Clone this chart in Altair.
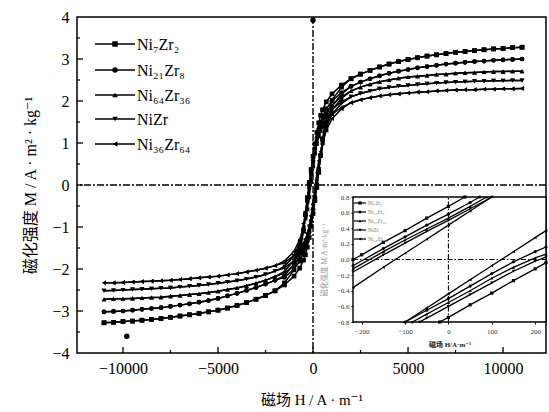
import altair as alt
import pandas as pd

SERIF = "Liberation Serif, DejaVu Serif, Noto Sans CJK SC"

SERIES = ["Ni₇Zr₂", "Ni₂₁Zr₈", "Ni₆₄Zr₃₆", "NiZr", "Ni₃₆Zr₆₄"]
SHAPES = ["square", "circle", "triangle-up", "triangle-down", "triangle-left"]

# ---- main loop, field H (A/m), magnetisation M (A·m²/kg)
# far field (both branches coincide)
H_FAR_NEG = [-11000, -10500, -10000, -9500, -9000, -8500, -8000, -7500, -7000, -6500,
             -6000, -5500, -5000, -4500, -4000, -3500, -3000, -2500, -2000]
H_FAR_POS = [2000, 2500, 3000, 3500, 4000, 4500, 5000, 5500, 6000, 6500,
             7000, 7500, 8000, 8500, 9000, 9500, 10000, 10500, 11000]
M_FAR_NEG = [
    [-3.28, -3.27, -3.25, -3.24, -3.22, -3.2, -3.18, -3.15, -3.12, -3.09,
     -3.06, -3.02, -2.98, -2.93, -2.87, -2.8, -2.72, -2.63, -2.52],
    [-3.02, -3.01, -3.0, -2.98, -2.96, -2.94, -2.92, -2.89, -2.86, -2.83,
     -2.79, -2.75, -2.7, -2.64, -2.58, -2.51, -2.44, -2.36, -2.27],
    [-2.72, -2.71, -2.71, -2.7, -2.69, -2.68, -2.67, -2.65, -2.63, -2.61,
     -2.59, -2.56, -2.53, -2.49, -2.45, -2.4, -2.34, -2.27, -2.18],
    [-2.52, -2.51, -2.5, -2.49, -2.48, -2.47, -2.46, -2.45, -2.43, -2.41,
     -2.39, -2.37, -2.34, -2.31, -2.28, -2.24, -2.19, -2.13, -2.05],
    [-2.33, -2.33, -2.32, -2.31, -2.3, -2.29, -2.28, -2.27, -2.25, -2.23,
     -2.21, -2.19, -2.17, -2.14, -2.11, -2.07, -2.03, -1.98, -1.92],
]
M_FAR_POS = [
    [2.53, 2.64, 2.73, 2.81, 2.88, 2.94, 2.99, 3.03, 3.07, 3.1,
     3.13, 3.16, 3.18, 3.2, 3.22, 3.24, 3.25, 3.27, 3.28],
    [2.35, 2.45, 2.53, 2.6, 2.66, 2.71, 2.75, 2.79, 2.82, 2.85,
     2.88, 2.9, 2.92, 2.94, 2.95, 2.97, 2.98, 2.99, 3.0],
    [2.24, 2.33, 2.4, 2.46, 2.5, 2.54, 2.57, 2.59, 2.61, 2.63,
     2.64, 2.66, 2.67, 2.68, 2.69, 2.7, 2.7, 2.71, 2.71],
    [2.1, 2.18, 2.24, 2.29, 2.32, 2.35, 2.37, 2.39, 2.41, 2.43,
     2.44, 2.45, 2.46, 2.47, 2.47, 2.48, 2.48, 2.49, 2.49],
    [1.96, 2.03, 2.08, 2.12, 2.15, 2.17, 2.19, 2.21, 2.22, 2.24,
     2.25, 2.26, 2.27, 2.27, 2.28, 2.28, 2.29, 2.29, 2.3],
]
# low field: descending (upper) and ascending (lower) branches
H_NEAR = [-1500, -1000, -700, -500, -400, -300, -200, -100, 0,
          100, 200, 300, 400, 500, 700, 1000, 1500]
M_NEAR_UP = [
    [-2.33, -2.02, -1.62, -1.1, -0.7, -0.3, 0.06, 0.37, 0.68,
     0.98, 1.25, 1.48, 1.66, 1.79, 1.98, 2.17, 2.38],
    [-2.16, -1.88, -1.52, -1.05, -0.72, -0.38, -0.02, 0.29, 0.58,
     0.86, 1.12, 1.34, 1.5, 1.63, 1.82, 2.0, 2.2],
    [-2.06, -1.79, -1.44, -1.0, -0.7, -0.38, -0.05, 0.25, 0.53,
     0.8, 1.05, 1.25, 1.41, 1.53, 1.72, 1.9, 2.1],
    [-1.94, -1.69, -1.36, -0.95, -0.66, -0.38, -0.08, 0.21, 0.5,
     0.76, 0.99, 1.18, 1.33, 1.45, 1.62, 1.8, 1.98],
    [-1.81, -1.58, -1.3, -1.0, -0.8, -0.58, -0.29, 0.08, 0.44,
     0.75, 0.98, 1.15, 1.28, 1.38, 1.53, 1.68, 1.85],
]
M_NEAR_LO = [
    [-2.38, -2.17, -1.98, -1.79, -1.66, -1.48, -1.25, -0.98, -0.68,
     -0.37, -0.06, 0.3, 0.7, 1.1, 1.62, 2.02, 2.33],
    [-2.2, -2.0, -1.82, -1.63, -1.5, -1.34, -1.12, -0.86, -0.58,
     -0.29, 0.02, 0.38, 0.72, 1.05, 1.52, 1.88, 2.16],
    [-2.1, -1.9, -1.72, -1.53, -1.41, -1.25, -1.05, -0.8, -0.53,
     -0.25, 0.05, 0.38, 0.7, 1.0, 1.44, 1.79, 2.06],
    [-1.98, -1.8, -1.62, -1.45, -1.33, -1.18, -0.99, -0.76, -0.5,
     -0.21, 0.08, 0.38, 0.66, 0.95, 1.36, 1.69, 1.94],
    [-1.85, -1.68, -1.53, -1.38, -1.28, -1.15, -0.98, -0.75, -0.44,
     -0.08, 0.29, 0.58, 0.8, 1.0, 1.3, 1.58, 1.81],
]

# isolated marks in the frame
STRAY_H = [0, -9800]
STRAY_M = [3.92, -3.6]

# ---- inset: branches near the origin
INSET_UP_H = [[-220, -200, -150, -100, -50, 0, 38],
              [-220, -150, -100, -50, 0, 50, 72],
              [-220, -150, -100, -50, 0, 50, 88],
              [-220, -150, -100, -50, 0, 50, 100],
              [-220, -150, -100, -50, 0, 50, 100]]
INSET_UP_M = [[0.0, 0.06, 0.22, 0.37, 0.53, 0.68, 0.8],
              [-0.08, 0.14, 0.29, 0.44, 0.58, 0.73, 0.8],
              [-0.12, 0.1, 0.25, 0.39, 0.53, 0.68, 0.8],
              [-0.16, 0.06, 0.21, 0.36, 0.5, 0.65, 0.8],
              [-0.36, -0.1, 0.08, 0.26, 0.44, 0.62, 0.8]]
INSET_LO_H = [[-20, 0, 50, 100, 150, 200, 225],
              [-100, -50, 0, 50, 100, 150, 200, 225],
              [-83, -50, 0, 50, 100, 150, 200, 225],
              [-67, -50, 0, 50, 100, 150, 200, 225],
              [-100, -50, 0, 50, 100, 150, 200, 225]]
INSET_LO_M = [[-0.8, -0.74, -0.58, -0.43, -0.27, -0.12, -0.04],
              [-0.8, -0.65, -0.5, -0.34, -0.18, -0.03, 0.1, 0.16],
              [-0.8, -0.7, -0.55, -0.4, -0.24, -0.1, 0.02, 0.07],
              [-0.8, -0.75, -0.6, -0.45, -0.3, -0.15, -0.02, 0.03],
              [-0.8, -0.62, -0.44, -0.26, -0.08, 0.1, 0.28, 0.37]]

X_TICKS_MAJOR = [-10000, -5000, 0, 5000, 10000]
X_TICKS_MINOR = [-7500, -2500, 2500, 7500]
Y_TICKS_MAJOR = [-3, -2, -1, 0, 1, 2, 3]
Y_TICKS_MINOR = [-3.5, -2.5, -1.5, -0.5, 0.5, 1.5, 2.5, 3.5]
Y_LABELS = [-4, -3, -2, -1, 0, 1, 2, 3, 4]
INSET_X_TICKS = [-200, -100, 0, 100, 200]
INSET_Y_TICKS = [-0.8, -0.6, -0.4, -0.2, 0.0, 0.2, 0.4, 0.6, 0.8]

# ---------------------------------------------------------------- tables
rows = []
for i, name in enumerate(SERIES):
    for branch, near in (("up", M_NEAR_UP[i]), ("lo", M_NEAR_LO[i])):
        hs = H_FAR_NEG + H_NEAR + H_FAR_POS
        ms = M_FAR_NEG[i] + near + M_FAR_POS[i]
        for h, m in zip(hs, ms):
            rows.append({"H": h, "M": m, "series": name, "curve": name + branch})
main_df = pd.DataFrame(rows)

irows = []
for i, name in enumerate(SERIES):
    for h, m in zip(INSET_UP_H[i], INSET_UP_M[i]):
        irows.append({"H": h, "M": m, "series": name, "curve": name + "_up"})
    for h, m in zip(INSET_LO_H[i], INSET_LO_M[i]):
        irows.append({"H": h, "M": m, "series": name, "curve": name + "_lo"})
inset_df = pd.DataFrame(irows)

W, HGT = 469, 336

shape_scale = alt.Scale(domain=SERIES, range=SHAPES)

x_main = alt.X("H:Q", scale=alt.Scale(domain=[-12420, 12260], nice=False, zero=False),
               axis=alt.Axis(values=X_TICKS_MAJOR, format="d", ticks=False, domain=False,
                             grid=False, labelFont=SERIF, labelFontSize=16,
                             labelColor="black", labelPadding=7,
                             title="磁场 H / A · m⁻¹", titleFont=SERIF, titleFontSize=15,
                             titleFontWeight="normal", titleColor="black", titlePadding=16))
y_main = alt.Y("M:Q", scale=alt.Scale(domain=[-4, 4], nice=False, zero=False),
               axis=alt.Axis(values=Y_LABELS, format="d", ticks=False, domain=False,
                             grid=False, labelFont=SERIF, labelFontSize=16,
                             labelColor="black", labelPadding=8,
                             title="磁化强度 M / A · m² · kg⁻¹", titleFont=SERIF,
                             titleFontSize=16, titleFontWeight="normal",
                             titleColor="black", titlePadding=13))

DASH = [7, 2, 2, 2]

lines = alt.Chart(main_df).mark_line(color="black", strokeWidth=1.5).encode(
    x=x_main, y=y_main, detail="curve:N")
points = alt.Chart(main_df).mark_point(filled=True, color="black", size=22, opacity=1).encode(
    x=x_main, y=y_main, shape=alt.Shape("series:N", scale=shape_scale, legend=None))
vzero = alt.Chart(pd.DataFrame({"H": [0]})).mark_rule(
    color="black", strokeWidth=1.4, strokeDash=DASH).encode(x=x_main)
hzero = alt.Chart(pd.DataFrame({"M": [0]})).mark_rule(
    color="black", strokeWidth=1.4, strokeDash=DASH).encode(y=y_main)
xt_major = alt.Chart(pd.DataFrame({"H": X_TICKS_MAJOR})).mark_rule(
    color="black", strokeWidth=1.3).encode(x=x_main, y=alt.value(HGT), y2=alt.value(HGT - 6))
xt_minor = alt.Chart(pd.DataFrame({"H": X_TICKS_MINOR})).mark_rule(
    color="black", strokeWidth=1.2).encode(x=x_main, y=alt.value(HGT), y2=alt.value(HGT - 3))
yt_major = alt.Chart(pd.DataFrame({"M": Y_TICKS_MAJOR})).mark_rule(
    color="black", strokeWidth=1.3).encode(y=y_main, x=alt.value(0), x2=alt.value(6))
yt_minor = alt.Chart(pd.DataFrame({"M": Y_TICKS_MINOR})).mark_rule(
    color="black", strokeWidth=1.2).encode(y=y_main, x=alt.value(0), x2=alt.value(3))
stray = alt.Chart(pd.DataFrame({"H": STRAY_H, "M": STRAY_M})).mark_point(
    filled=True, color="black", size=30, shape="circle", opacity=1).encode(x=x_main, y=y_main)

one = pd.DataFrame({"k": [0]})
legend_layers = []
LEG_Y = [27, 53, 78, 102, 127]
for name, shp, yy in zip(SERIES, SHAPES, LEG_Y):
    legend_layers.append(alt.Chart(one).mark_rule(color="black", strokeWidth=1.5).encode(
        x=alt.value(18), x2=alt.value(58), y=alt.value(yy)))
    legend_layers.append(alt.Chart(one).mark_point(
        filled=True, color="black", size=30, shape=shp, opacity=1).encode(
        x=alt.value(38), y=alt.value(yy)))
    legend_layers.append(alt.Chart(one).mark_text(
        align="left", baseline="middle", font=SERIF, fontSize=16, color="black").encode(
        x=alt.value(60), y=alt.value(yy + 1), text=alt.value(name)))

main_layer = alt.layer(vzero, hzero, xt_major, xt_minor, yt_major, yt_minor,
                       lines, points, stray, *legend_layers)

# ---------------------------------------------------------------- inset
IX0, IX1 = 276, 469
IY0, IY1 = 305, 180
x_in = alt.X("H:Q", scale=alt.Scale(domain=[-220, 225], range=[IX0, IX1], nice=False, zero=False),
             axis=alt.Axis(orient="bottom", offset=-(HGT - IY0), values=INSET_X_TICKS, format="d",
                           domain=False, grid=False, tickSize=2, tickColor="black",
                           labelFont=SERIF, labelFontSize=7, labelColor="#333",
                           labelPadding=3, title="磁场 H/A·m⁻¹", titleFont=SERIF,
                           titleFontSize=7, titleFontWeight="bold", titleColor="#222",
                           titlePadding=6))
y_in = alt.Y("M:Q", scale=alt.Scale(domain=[-0.8, 0.8], range=[IY0, IY1], nice=False, zero=False),
             axis=alt.Axis(orient="left", offset=-IX0, values=INSET_Y_TICKS, format=".1f",
                           domain=False, grid=False, tickSize=2, tickColor="black",
                           labelFont=SERIF, labelFontSize=7, labelColor="#333",
                           labelPadding=2, title="磁化强度 M/A·m²·kg⁻¹", titleFont=SERIF,
                           titleFontSize=7.5, titleFontWeight="normal", titleColor="#999",
                           titlePadding=8))

frame = alt.Chart(pd.DataFrame({"H": [-220], "H2": [225], "M": [-0.8], "M2": [0.8]})).mark_rect(
    fill="white", stroke="black", strokeWidth=1.4).encode(x=x_in, x2="H2", y=y_in, y2="M2")
iv = alt.Chart(pd.DataFrame({"H": [0], "M": [-0.8], "M2": [0.8]})).mark_rule(
    color="black", strokeWidth=1.1, strokeDash=[5, 2, 1.5, 2]).encode(x=x_in, y=y_in, y2="M2")
ih = alt.Chart(pd.DataFrame({"M": [0], "H": [-220], "H2": [225]})).mark_rule(
    color="black", strokeWidth=1.1, strokeDash=[5, 2, 1.5, 2]).encode(y=y_in, x=x_in, x2="H2")
ilines = alt.Chart(inset_df).mark_line(color="black", strokeWidth=1.3).encode(
    x=x_in, y=y_in, detail="curve:N")
ipoints = alt.Chart(inset_df).mark_point(filled=True, color="black", size=10, opacity=1).encode(
    x=x_in, y=y_in, shape=alt.Shape("series:N", scale=shape_scale, legend=None))

ileg = []
ILEG_Y = [186, 195, 204, 213, 222]
for name, shp, yy in zip(SERIES, SHAPES, ILEG_Y):
    ileg.append(alt.Chart(one).mark_rule(color="black", strokeWidth=1.2).encode(
        x=alt.value(IX0 + 1), x2=alt.value(IX0 + 13), y=alt.value(yy)))
    ileg.append(alt.Chart(one).mark_point(
        filled=True, color="black", size=10, shape=shp, opacity=1).encode(
        x=alt.value(IX0 + 7), y=alt.value(yy)))
    ileg.append(alt.Chart(one).mark_text(
        align="left", baseline="middle", font=SERIF, fontSize=5.5, color="#777").encode(
        x=alt.value(IX0 + 15), y=alt.value(yy), text=alt.value(name)))

inset_layer = alt.layer(frame, iv, ih, ilines, ipoints, *ileg)

chart = alt.layer(main_layer, inset_layer).resolve_scale(
    x="independent", y="independent", shape="shared"
).properties(
    width=W, height=HGT,
    autosize=alt.AutoSizeParams(type="none"),
    padding={"left": 77, "top": 17, "right": 3, "bottom": 59},
    background="white",
).configure_view(stroke="black", strokeWidth=1.5)

chart.save("out.html", embed_options={"renderer": "svg", "actions": False})
